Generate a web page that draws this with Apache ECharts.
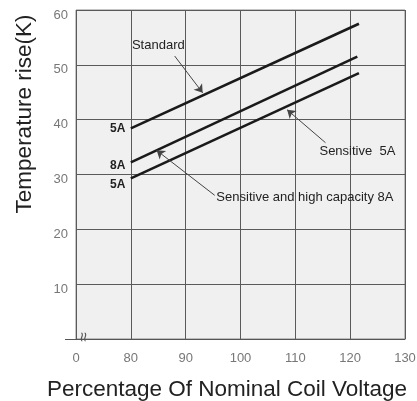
<!DOCTYPE html>
<html>
<head>
<meta charset="utf-8">
<script src="https://cdn.jsdelivr.net/npm/echarts@6/dist/echarts.min.js"></script>
<style>html,body{margin:0;padding:0;background:#fff;}#c{width:417px;height:401px;}</style>
</head>
<body>
<div id="c"></div>
<script>
// X axis is broken: the leftmost tick (70 on the scale) is labelled "0"
const xTicks = [70, 80, 90, 100, 110, 120, 130];
const xTickLabels = ['0', '80', '90', '100', '110', '120', '130'];
const yTicks = [0, 10, 20, 30, 40, 50, 60];
const xTitle = 'Percentage Of Nominal Coil Voltage';
const yTitle = 'Temperature rise(K)';

// Curves (start and end points)
const standardX = [80, 121.6];
const standardY = [38.4, 57.5];
const sens8AX = [80, 121.3];
const sens8AY = [32.2, 51.5];
const sens5AX = [80, 121.6];
const sens5AY = [29.3, 48.5];

// Annotation texts and their anchor points (data space)
const noteTexts = ['Standard', 'Sensitive  5A', 'Sensitive and high capacity 8A'];
const noteAt = [[80.2, 53.5], [114.4, 34.2], [95.6, 25.8]];
// Arrows: [from, to]
const arrowFrom = [[88.0, 51.6], [115.5, 35.8], [95.3, 26.2]];
const arrowTo = [[93.1, 44.9], [108.5, 41.8], [84.7, 34.4]];
// Small current labels left of the line starts
const currentTexts = ['5A', '8A', '5A'];
const currentAt = [[79, 38.4], [79, 31.6], [79, 28.2]];

const FONT = 'Liberation Sans, Arial, sans-serif';

function pairs(xs, ys) { return xs.map((x, i) => [x, ys[i]]); }

const lineStyle = { color: '#1a1a1a', width: 2.6 };

const chart = echarts.init(document.getElementById('c'), null, { renderer: 'canvas' });
chart.setOption({
  animation: false,
  backgroundColor: '#ffffff',
  grid: {
    left: 76, right: 12, top: 10, bottom: 62,
    outerBoundsMode: 'none', containLabel: false,
    show: true, backgroundColor: '#f0f0f0', borderColor: '#8a8a8a', borderWidth: 1
  },
  xAxis: {
    type: 'value', min: 70, max: 130, interval: 10,
    axisLine: { show: true, lineStyle: { color: '#555', width: 1 } },
    axisTick: { show: false },
    axisLabel: {
      margin: 13, color: '#777', fontFamily: FONT, fontSize: 13,
      formatter: v => { const i = xTicks.indexOf(v); return i >= 0 ? xTickLabels[i] : ''; }
    },
    splitLine: { show: true, lineStyle: { color: '#5a5a5a', width: 1 } }
  },
  yAxis: {
    type: 'value', min: 0, max: 60, interval: 10,
    axisLine: { show: false },
    axisTick: { show: false },
    axisLabel: {
      margin: 8, color: '#777', fontFamily: FONT, fontSize: 13,
      verticalAlign: 'top', lineHeight: 10,
      formatter: v => (v === 0 ? '' : String(v))
    },
    splitLine: { show: true, lineStyle: { color: '#5a5a5a', width: 1 } }
  },
  graphic: [
    {
      type: 'text', x: 227, y: 390,
      style: { text: xTitle, fontFamily: FONT, fontSize: 22.5, fill: '#222', align: 'center', verticalAlign: 'middle' }
    },
    {
      type: 'text', x: 25, y: 114, rotation: Math.PI / 2,
      style: { text: yTitle, fontFamily: FONT, fontSize: 22.5, fill: '#222', align: 'center', verticalAlign: 'middle' }
    }
  ],
  series: [
    {
      type: 'line', data: pairs(standardX, standardY), symbol: 'none', lineStyle, z: 3,
      markLine: {
        silent: true, symbol: ['none', 'arrow'], symbolSize: 8, z: 4,
        lineStyle: { color: '#444', width: 1, type: 'solid' },
        label: { show: false },
        data: arrowFrom.map((f, i) => [{ coord: f }, { coord: arrowTo[i] }])
      },
      markPoint: {
        silent: true, symbol: 'circle', symbolSize: 0,
        label: { show: true, position: 'right', distance: 0, color: '#222', fontFamily: FONT, fontSize: 13, formatter: p => p.name },
        data: noteTexts.map((t, i) => ({ name: t, coord: noteAt[i] }))
      }
    },
    {
      type: 'line', data: pairs(sens8AX, sens8AY), symbol: 'none', lineStyle, z: 3,
      markPoint: {
        silent: true, symbol: 'circle', symbolSize: 0,
        label: { show: true, position: 'left', distance: 0, color: '#222', fontFamily: FONT, fontSize: 12, fontWeight: 'bold', formatter: p => p.name },
        data: currentTexts.map((t, i) => ({ name: t, coord: currentAt[i] }))
      }
    },
    { type: 'line', data: pairs(sens5AX, sens5AY), symbol: 'none', lineStyle, z: 3 }
  ]
});

// axis-break mark near the origin and the small left overhang of the x axis line,
// placed through the axis scale
const brk = chart.convertToPixel({ gridIndex: 0 }, [71.5, 0]);
const org = chart.convertToPixel({ gridIndex: 0 }, [70, 0]);
chart.setOption({
  graphic: [
    {}, {},
    {
      type: 'text', x: brk[0], y: brk[1] - 2, rotation: Math.PI / 2,
      style: { text: '≈', fontFamily: FONT, fontSize: 17, fill: '#555', align: 'center', verticalAlign: 'middle' }
    },
    {
      type: 'line', shape: { x1: org[0] - 11, y1: org[1] + 0.5, x2: org[0], y2: org[1] + 0.5 },
      style: { stroke: '#555', lineWidth: 1 }
    }
  ]
});
</script>
</body>
</html>
